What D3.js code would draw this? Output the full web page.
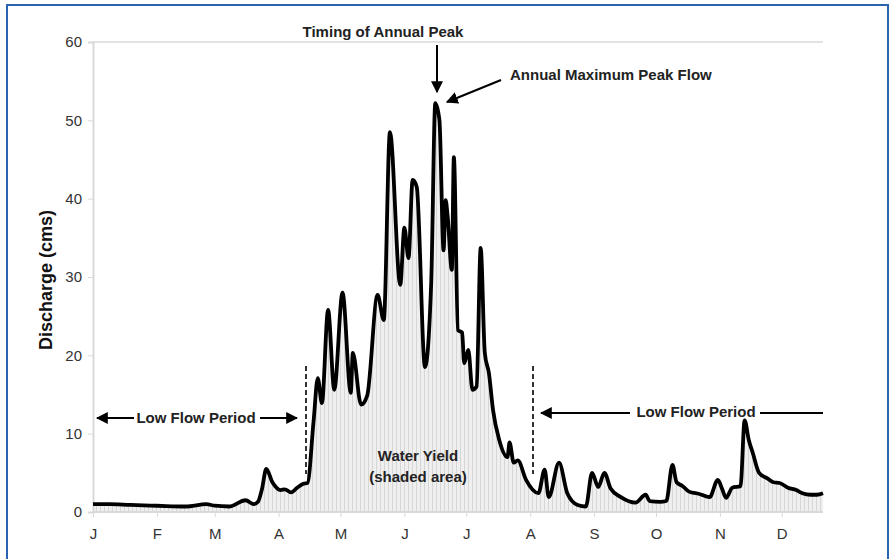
<!DOCTYPE html>
<html>
<head>
<meta charset="utf-8">
<script src="https://cdn.jsdelivr.net/npm/d3@7"></script>
<style>
  body { margin: 0; background: #fff; }
  svg text { font-family: "Liberation Sans", Arial, sans-serif; }
</style>
</head>
<body>
<div id="graph"></div>
<script>
// hydrograph: day of year -> discharge (cms)
var days = [0, 8, 18, 31, 45, 55, 59, 66, 74, 78, 80, 82, 84, 87, 91, 93, 96, 99, 102, 104,
            107, 109, 111, 114, 117, 121, 125, 126, 130, 133, 138, 141, 144, 149, 151, 153, 155, 157,
            161, 164, 166, 168, 170, 171, 172, 174, 175, 177, 179, 180, 182, 184, 186, 188, 190, 192,
            194, 197, 201, 202, 204, 206, 210, 216, 219, 221, 226, 230, 235, 239, 242, 245, 248, 251,
            256, 263, 268, 270, 275, 278, 281, 283, 286, 289, 294, 299, 303, 305, 307, 310, 314, 316,
            318, 320, 323, 327, 330, 333, 337, 341, 344, 348, 351, 354];
var flow = [1.0, 1.0, 0.9, 0.8, 0.7, 1.0, 0.8, 0.7, 1.5, 1.0, 1.3, 3.0, 5.5, 3.8, 2.8, 2.9, 2.5, 3.1, 3.6, 3.7,
            11.7, 17.1, 13.9, 25.8, 15.6, 28.0, 15.2, 20.3, 13.7, 14.9, 27.7, 24.5, 48.5, 29.0, 36.3, 32.4, 42.4, 41.5,
            18.5, 29.2, 52.2, 50.0, 33.4, 39.8, 37.7, 30.9, 45.3, 23.2, 22.9, 19.0, 20.7, 15.6, 16.0, 33.7, 20.3, 17.7,
            13.0, 9.2, 7.0, 8.9, 6.3, 6.6, 4.1, 2.4, 5.4, 1.9, 6.3, 2.4, 0.9, 0.7, 5.0, 3.2, 5.0, 3.0,
            1.9, 1.2, 2.2, 1.4, 1.3, 1.4, 6.0, 3.8, 3.3, 2.6, 2.3, 1.9, 4.1, 3.0, 1.8, 3.1, 3.3, 11.7,
            9.2, 7.5, 5.0, 4.3, 3.8, 3.7, 3.1, 2.8, 2.4, 2.2, 2.2, 2.4];

var monthLabels = ["J", "F", "M", "A", "M", "J", "J", "A", "S", "O", "N", "D"];
var monthStart = [0, 31, 59, 90, 120, 151, 181, 212, 243, 273, 304, 334];
var yTicks = [0, 10, 20, 30, 40, 50, 60];

var width = 893, height = 559;
var margin = {left: 93, right: 70, top: 42, bottom: 47};

var svg = d3.select("#graph").append("svg")
    .attr("width", width)
    .attr("height", height);

// blue frame
svg.append("path")
    .attr("d", "M7,560 L7,5 L888,5 L888,560")
    .attr("fill", "none")
    .attr("stroke", "#2a63b0")
    .attr("stroke-width", 2);

var x = d3.scaleLinear().domain([0, 354]).range([margin.left, width - margin.right]);
var y = d3.scaleLinear().domain([0, 60]).range([height - margin.bottom, margin.top]);

var defs = svg.append("defs");
var pat = defs.append("pattern")
    .attr("id", "stripes")
    .attr("patternUnits", "userSpaceOnUse")
    .attr("width", 4).attr("height", 10);
pat.append("rect").attr("width", 4).attr("height", 10).attr("fill", "#efefef");
pat.append("rect").attr("width", 1).attr("height", 10).attr("fill", "#d6d6d6");

defs.append("marker")
    .attr("id", "arrow")
    .attr("viewBox", "0 0 10 10")
    .attr("refX", 9).attr("refY", 5)
    .attr("markerWidth", 6).attr("markerHeight", 6)
    .attr("markerUnits", "strokeWidth")
    .attr("orient", "auto")
  .append("path")
    .attr("d", "M0,0 L10,5 L0,10 z")
    .attr("fill", "#000");

// top line of the plot frame
svg.append("line")
    .attr("x1", x(0)).attr("x2", x(354))
    .attr("y1", y(60)).attr("y2", y(60))
    .attr("stroke", "#e2e2e2").attr("stroke-width", 2);

var data = days.map(function(d, i) { return {day: d, q: flow[i]}; });

var area = d3.area()
    .x(function(d) { return x(d.day); })
    .y0(y(0))
    .y1(function(d) { return y(d.q); })
    .curve(d3.curveMonotoneX);

var line = d3.line()
    .x(function(d) { return x(d.day); })
    .y(function(d) { return y(d.q); })
    .curve(d3.curveMonotoneX);

svg.append("path")
    .datum(data)
    .attr("d", area)
    .attr("fill", "url(#stripes)");

var yAxis = svg.append("g")
    .attr("transform", "translate(" + margin.left + ",0)")
    .call(d3.axisLeft(y).tickValues(yTicks).tickSize(5).tickPadding(6));
var xAxis = svg.append("g")
    .attr("transform", "translate(0," + y(0) + ")")
    .call(d3.axisBottom(x).tickValues(monthStart).tickSize(5).tickPadding(11)
      .tickFormat(function(d, i) { return monthLabels[i]; }));

[yAxis, xAxis].forEach(function(g) {
  g.select(".domain").attr("stroke", "#d9d9d9").attr("stroke-width", 2);
  g.selectAll(".tick line").attr("stroke", "#d9d9d9");
  g.selectAll(".tick text").attr("fill", "#333").style("font-size", "15px");
});
xAxis.select(".domain").attr("d", "M" + x(0) + ",0H" + x(354));

svg.append("path")
    .datum(data)
    .attr("d", line)
    .attr("fill", "none")
    .attr("stroke", "#000")
    .attr("stroke-width", 3.8)
    .attr("stroke-linejoin", "round");

svg.append("text")
    .attr("transform", "translate(52,280) rotate(-90)")
    .attr("text-anchor", "middle")
    .style("font-size", "18px")
    .style("font-weight", "bold")
    .attr("fill", "#111")
    .text("Discharge (cms)");

// annotations
function label(tx, ty, str, anchor) {
  svg.append("text")
      .attr("x", tx).attr("y", ty)
      .attr("text-anchor", anchor || "start")
      .style("font-size", "15px")
      .style("font-weight", "bold")
      .attr("fill", "#222")
      .text(str);
}
function arrow(x1, y1, x2, y2, head) {
  svg.append("line")
      .attr("x1", x1).attr("y1", y1).attr("x2", x2).attr("y2", y2)
      .attr("stroke", "#000").attr("stroke-width", 2)
      .attr("marker-end", head === false ? null : "url(#arrow)");
}

label(383, 37, "Timing of Annual Peak", "middle");
arrow(437, 45, 437, 92);
label(510, 80, "Annual Maximum Peak Flow");
arrow(501, 80, 447, 102);

label(196, 423, "Low Flow Period", "middle");
arrow(134, 418, 97, 418);
arrow(260, 418, 297, 418);

label(696, 417, "Low Flow Period", "middle");
arrow(630, 413, 541, 413);
arrow(760, 413, 823, 413, false);

[306, 533].forEach(function(px) {
  svg.append("line")
      .attr("x1", px).attr("x2", px)
      .attr("y1", 366).attr("y2", 474)
      .attr("stroke", "#333").attr("stroke-width", 2)
      .attr("stroke-dasharray", "5,3");
});

label(418, 461, "Water Yield", "middle");
label(418, 482, "(shaded area)", "middle");
</script>
</body>
</html>
